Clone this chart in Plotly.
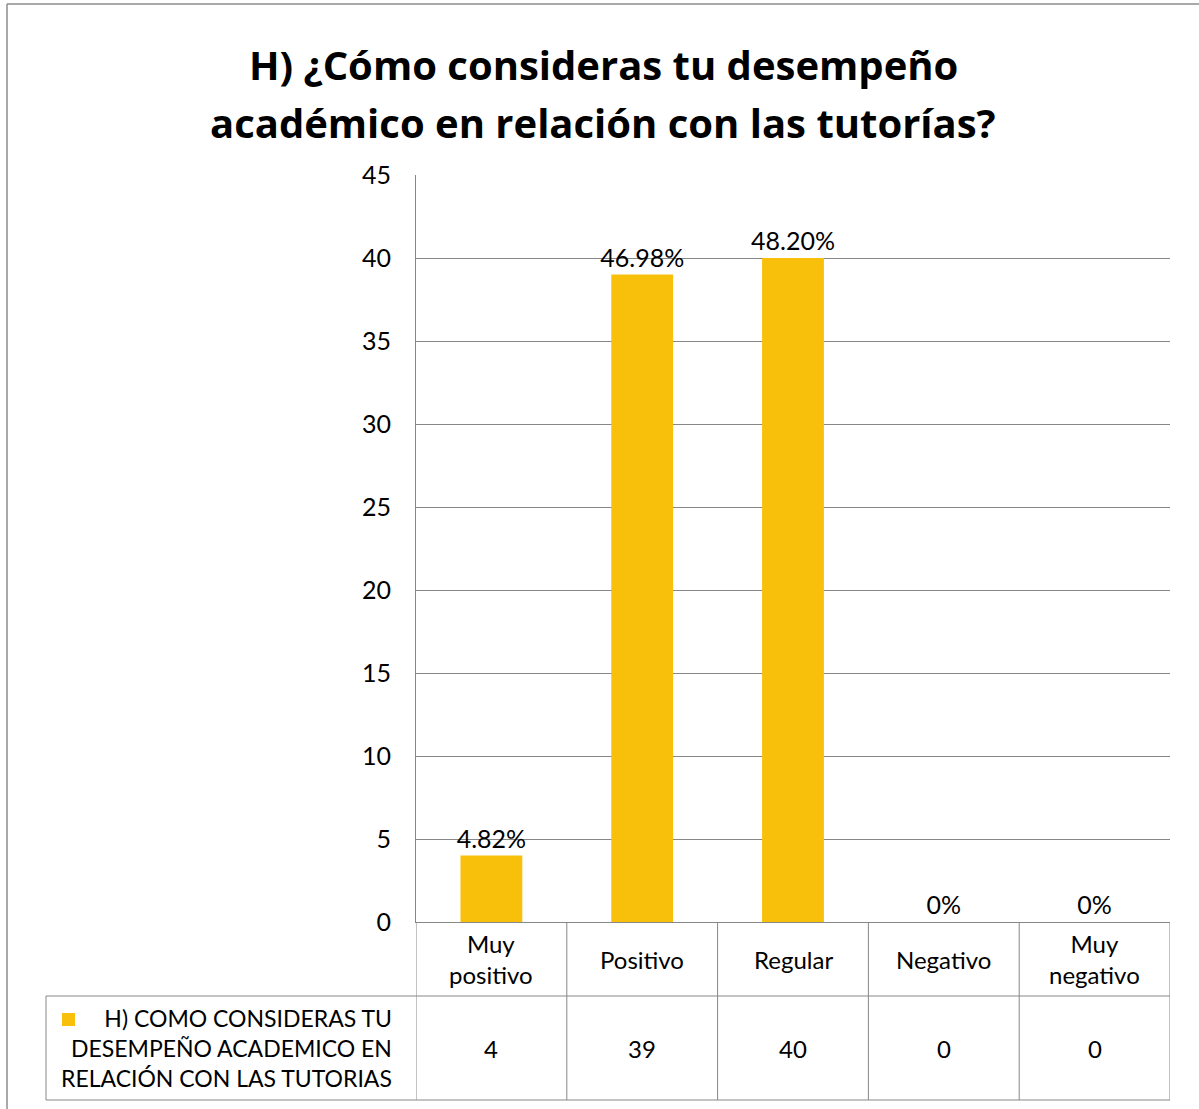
import plotly.graph_objects as go

categories = ["Muy positivo", "Positivo", "Regular", "Negativo", "Muy negativo"]
category_labels = ["Muy<br>positivo", "Positivo", "Regular", "Negativo", "Muy<br>negativo"]
counts = [4, 39, 40, 0, 0]
pct_labels = ["4.82%", "46.98%", "48.20%", "0%", "0%"]
series_name = "H) COMO CONSIDERAS TU<br>DESEMPEÑO ACADEMICO EN<br>RELACIÓN CON LAS TUTORIAS"
title_lines = ["H) ¿Cómo consideras tu desempeño", "académico en relación con las tutorías?"]
y_ticks = [0, 5, 10, 15, 20, 25, 30, 35, 40, 45]

W, H = 1199, 1109
FONT = "Lato"
TFONT = "Open Sans"
GRID = "#878787"
BAR = "#F8C00A"

def px_x(p):
    return p / W

def px_y(p):
    return 1 - p / H

x_idx = list(range(len(categories)))

fig = go.Figure()
fig.add_trace(go.Bar(
    x=x_idx, y=counts, width=0.41,
    marker=dict(color=BAR, line=dict(width=0)),
    text=pct_labels, textposition="outside", cliponaxis=False, constraintext="none",
    textfont=dict(family=FONT, size=25, color="#000000"),
    name=series_name, showlegend=False,
))

plot_top, plot_bot = 175, 922
row1_bot, row2_bot = 996, 1100
plot_left, plot_right = 416, 1170
legend_left = 46

shapes = []
shapes.append(dict(type="line", xref="paper", yref="paper", x0=px_x(7), x1=1, y0=px_y(4), y1=px_y(4),
                   line=dict(color="#8c8c8c", width=1.5)))
shapes.append(dict(type="line", xref="paper", yref="paper", x0=px_x(7), x1=px_x(7), y0=px_y(4), y1=0,
                   line=dict(color="#8c8c8c", width=1.5)))
for i in range(len(categories) + 1):
    shapes.append(dict(type="line", xref="x", yref="paper", x0=i - 0.5, x1=i - 0.5,
                       y0=px_y(plot_bot), y1=px_y(row2_bot), line=dict(color=GRID, width=1)))
shapes.append(dict(type="line", xref="paper", yref="paper", x0=px_x(legend_left), x1=px_x(legend_left),
                   y0=px_y(row1_bot), y1=px_y(row2_bot), line=dict(color=GRID, width=1)))
for yy in (row1_bot, row2_bot):
    shapes.append(dict(type="line", xref="paper", yref="paper", x0=px_x(legend_left), x1=px_x(plot_right),
                       y0=px_y(yy), y1=px_y(yy), line=dict(color=GRID, width=1)))
shapes.append(dict(type="rect", xref="paper", yref="paper", x0=px_x(62), x1=px_x(75),
                   y0=px_y(1026), y1=px_y(1013), fillcolor=BAR, line=dict(width=0)))

annotations = []
for yy, line in zip((65, 123), title_lines):
    annotations.append(dict(x=px_x(603), xref="paper", y=px_y(yy), yref="paper", text="<b>%s</b>" % line,
                            showarrow=False, xanchor="center", yanchor="middle",
                            font=dict(family=TFONT, size=40, color="#000000")))
for i, lab in enumerate(category_labels):
    annotations.append(dict(x=i, xref="x", y=px_y((plot_bot + row1_bot) / 2), yref="paper",
                            text=lab, showarrow=False, xanchor="center", yanchor="middle",
                            font=dict(family=FONT, size=24, color="#000000")))
    annotations.append(dict(x=i, xref="x", y=px_y((row1_bot + row2_bot) / 2), yref="paper",
                            text=str(counts[i]), showarrow=False, xanchor="center", yanchor="middle",
                            font=dict(family=FONT, size=24, color="#000000")))
annotations.append(dict(x=px_x(394), xref="paper", y=px_y((row1_bot + row2_bot) / 2), yref="paper",
                        text=series_name, showarrow=False, xanchor="right", yanchor="middle", align="right",
                        font=dict(family=FONT, size=23, color="#000000")))

fig.update_layout(
    width=W, height=H, autosize=False,
    margin=dict(l=0, r=0, t=0, b=0, pad=0, autoexpand=False),
    paper_bgcolor="white", plot_bgcolor="white",
    xaxis=dict(domain=[px_x(plot_left), px_x(plot_right)], range=[-0.5, 4.5], automargin=False,
               showticklabels=False, showgrid=False, zeroline=False,
               showline=True, linecolor=GRID, linewidth=1, ticks=""),
    yaxis=dict(domain=[px_y(plot_bot), px_y(plot_top)], range=[0, 45], automargin=False,
               tickvals=y_ticks, showgrid=True, gridcolor=GRID, gridwidth=1,
               zeroline=False, showline=True, linecolor=GRID, linewidth=1,
               ticks="", ticklabelstandoff=19,
               tickfont=dict(family=FONT, size=25, color="#000000")),
    shapes=shapes, annotations=annotations,
    showlegend=False,
)

fig.write_html("out.html", config={"displayModeBar": False, "responsive": False},
               post_script="document.body.style.margin='0';document.body.style.overflow='hidden';")
